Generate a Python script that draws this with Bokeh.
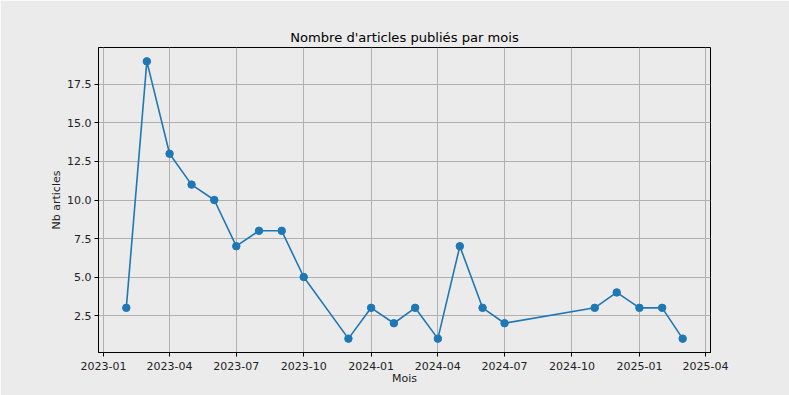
import pandas as pd
from bokeh.plotting import figure
from bokeh.models import Range1d, FixedTicker, DatetimeTickFormatter, ColumnDataSource, CustomJSTickFormatter
from bokeh.embed import file_html
from bokeh.resources import INLINE

months = ["2023-02-01", "2023-03-01", "2023-04-01", "2023-05-01", "2023-06-01",
          "2023-07-01", "2023-08-01", "2023-09-01", "2023-10-01", "2023-12-01",
          "2024-01-01", "2024-02-01", "2024-03-01", "2024-04-01", "2024-05-01",
          "2024-06-01", "2024-07-01", "2024-11-01", "2024-12-01", "2025-01-01",
          "2025-02-01", "2025-03-01"]
counts = [3, 19, 13, 11, 10, 7, 8, 8, 5, 1, 3, 2, 3, 1, 7, 3, 2, 3, 4, 3, 3, 1]
x_tick_dates = ["2023-01-01", "2023-04-01", "2023-07-01", "2023-10-01", "2024-01-01",
                "2024-04-01", "2024-07-01", "2024-10-01", "2025-01-01", "2025-04-01"]
y_ticks = [2.5, 5.0, 7.5, 10.0, 12.5, 15.0, 17.5]

dates = pd.to_datetime(months)
src = ColumnDataSource(dict(x=dates, y=counts))

xmin, xmax = dates.min(), dates.max()
xspan = xmax - xmin
ymin, ymax = min(counts), max(counts)
yspan = ymax - ymin

BG = "#ebebeb"
FONT = "DejaVu Sans"

p = figure(x_axis_type="datetime", output_backend="svg", toolbar_location=None,
           frame_width=612, frame_height=305,
           min_border_left=98, min_border_right=79, min_border_top=47, min_border_bottom=43,
           x_range=Range1d(xmin - xspan * 0.05, xmax + xspan * 0.05),
           y_range=Range1d(ymin - yspan * 0.05, ymax + yspan * 0.05),
           title="Nombre d'articles publiés par mois")

p.background_fill_color = BG
p.border_fill_color = BG
p.outline_line_color = "black"
p.outline_line_width = 1

p.title.align = "center"
p.title.text_font = FONT
p.title.text_font_size = "13.1px"
p.title.text_font_style = "normal"
p.title.text_color = "black"
p.title.standoff = 6

p.line("x", "y", source=src, line_color="#1f77b4", line_width=1.6)
p.scatter("x", "y", source=src, size=7.5, fill_color="#1f77b4", line_color="#1f77b4")

tick_ms = [pd.Timestamp(d).value // 10**6 for d in x_tick_dates]
p.xaxis.ticker = FixedTicker(ticks=tick_ms)
fmt = "%Y-%m"
p.xaxis.formatter = DatetimeTickFormatter(years=fmt, months=fmt, days=fmt, hours=fmt,
                                          minutes=fmt, seconds=fmt, milliseconds=fmt,
                                          minsec=fmt, hourmin=fmt)
p.yaxis.ticker = FixedTicker(ticks=y_ticks)
p.yaxis.formatter = CustomJSTickFormatter(code="return tick.toFixed(1);")

p.xaxis.axis_label = "Mois"
p.yaxis.axis_label = "Nb articles"

for ax in (p.xaxis, p.yaxis):
    ax.axis_line_color = "black"
    ax.axis_line_width = 1
    ax.major_tick_line_color = "black"
    ax.major_tick_out = 4
    ax.major_tick_in = 0
    ax.minor_tick_line_color = None
    ax.major_label_text_font = FONT
    ax.major_label_text_font_size = "11px"
    ax.major_label_text_color = "#222222"
    ax.axis_label_text_font = FONT
    ax.axis_label_text_font_size = "11px"
    ax.axis_label_text_font_style = "normal"
    ax.axis_label_text_color = "#222222"

p.xaxis.major_label_standoff = 5
p.xaxis.axis_label_standoff = -1
p.yaxis.major_label_standoff = 3
p.yaxis.axis_label_standoff = 1

p.grid.grid_line_color = "#b0b0b0"
p.grid.grid_line_width = 1

open("out.html", "w").write(file_html(p, INLINE))
